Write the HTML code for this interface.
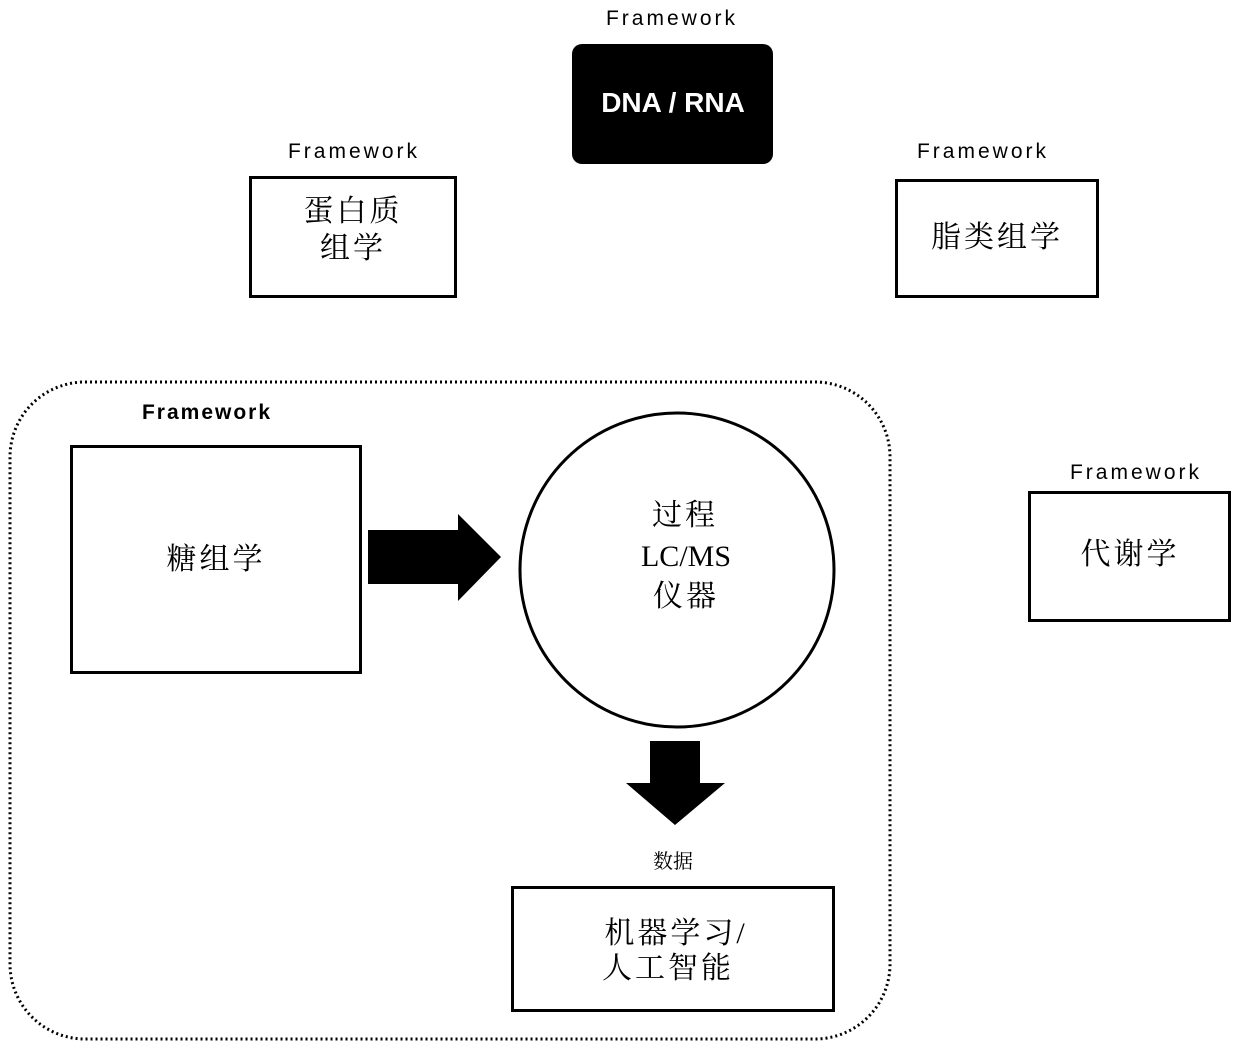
<!DOCTYPE html>
<html><head><meta charset="utf-8"><style>
html,body{margin:0;padding:0;background:#fff;}
svg{display:block;}
.fw{font-family:"Liberation Sans",sans-serif;font-size:21px;fill:#000;text-anchor:middle;letter-spacing:3px;}
.cn{font-family:"Liberation Serif","Noto Serif CJK SC",serif;font-size:30px;fill:#000;text-anchor:middle;letter-spacing:3px;}
</style></head><body>
<svg width="1240" height="1049" viewBox="0 0 1240 1049" xmlns="http://www.w3.org/2000/svg">
<text class="fw" x="672" y="25">Framework</text>
<rect x="572" y="44" width="201" height="120" rx="10" fill="#000"/>
<text x="673" y="112" font-family="Liberation Sans,sans-serif" font-size="28" font-weight="bold" fill="#fff" text-anchor="middle">DNA / RNA</text>

<text class="fw" x="354" y="158">Framework</text>
<rect x="250.5" y="177.5" width="205" height="119" fill="none" stroke="#000" stroke-width="3"/>
<text class="cn" x="353" y="221">蛋白质</text>
<text class="cn" x="353" y="258">组学</text>

<text class="fw" x="983" y="158">Framework</text>
<rect x="896.5" y="180.5" width="201" height="116" fill="none" stroke="#000" stroke-width="3"/>
<text class="cn" x="997" y="247">脂类组学</text>

<rect x="10" y="382" width="880" height="657" rx="75" fill="none" stroke="#000" stroke-width="3" stroke-dasharray="2 3"/>
<text x="207" y="419" font-family="Liberation Sans,sans-serif" font-size="21" font-weight="bold" fill="#000" text-anchor="middle" letter-spacing="2">Framework</text>

<rect x="71.5" y="446.5" width="289" height="226" fill="none" stroke="#000" stroke-width="3"/>
<text class="cn" x="216" y="569">糖组学</text>

<polygon points="368,530 458,530 458,514 501,557 458,601 458,584 368,584" fill="#000"/>

<circle cx="677" cy="570" r="157" fill="none" stroke="#000" stroke-width="3"/>
<text class="cn" x="685" y="525">过程</text>
<text class="cn" x="686" y="566" style="letter-spacing:0">LC/MS</text>
<text class="cn" x="686" y="606">仪器</text>

<polygon points="650,741 700,741 700,783 725,783 675,825 626,783 650,783" fill="#000"/>
<text x="673" y="868" font-family="Liberation Serif,'Noto Serif CJK SC',serif" font-size="20" text-anchor="middle" fill="#000">数据</text>

<rect x="512.5" y="887.5" width="321" height="123" fill="none" stroke="#000" stroke-width="3"/>
<text class="cn" x="676" y="943">机器学习/</text>
<text class="cn" x="668" y="978">人工智能</text>

<text class="fw" x="1136" y="479">Framework</text>
<rect x="1029.5" y="492.5" width="200" height="128" fill="none" stroke="#000" stroke-width="3"/>
<text class="cn" x="1130" y="564">代谢学</text>
</svg>
</body></html>
